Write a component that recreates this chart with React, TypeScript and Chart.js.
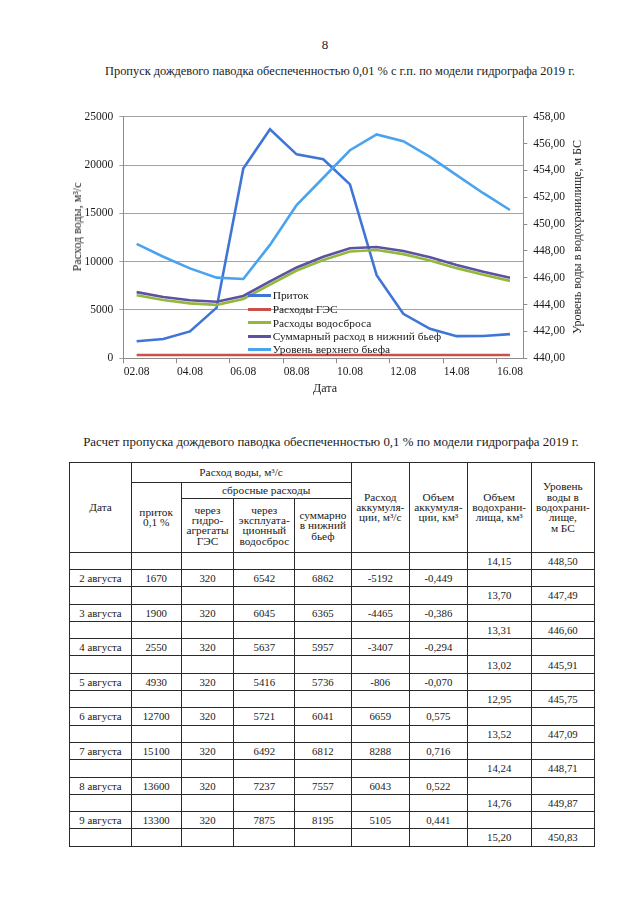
import React, { useEffect, useRef } from 'react';
import { Chart, registerables } from 'chart.js';

Chart.register(...registerables);

const SERIF = "'Liberation Serif', 'Times New Roman', serif";
const TEXT = '#1a1a1a';
const GRID = '#a3a3a3';
const AXIS = '#8c8c8c';

// ---- chart data ----
const categories = ['02.08', '03.08', '04.08', '05.08', '06.08', '07.08', '08.08', '09.08', '10.08', '11.08', '12.08', '13.08', '14.08', '15.08', '16.08'];
const inflow = [1770, 2000, 2780, 5240, 19650, 23700, 21100, 20600, 18000, 8600, 4600, 3050, 2290, 2310, 2500];
const hesFlow = [340, 340, 340, 340, 340, 340, 340, 340, 340, 340, 340, 340, 340, 340, 340];
const spillwayFlow = [6530, 6030, 5680, 5530, 6130, 7630, 9080, 10180, 11060, 11200, 10780, 10130, 9330, 8640, 8010];
const totalFlow = [6850, 6350, 6000, 5850, 6450, 7950, 9400, 10500, 11380, 11520, 11100, 10450, 9650, 8960, 8330];
const upperLevel = [448.52, 447.57, 446.7, 446.01, 445.91, 448.45, 451.42, 453.45, 455.5, 456.68, 456.18, 455.0, 453.65, 452.3, 451.05];
const seriesNames = ['Приток', 'Расходы ГЭС', 'Расходы водосброса', 'Суммарный расход в нижний бьеф', 'Уровень верхнего бьефа'];
const seriesColors = ['#3f76d6', '#c9514c', '#93b93c', '#5e52a0', '#4aa3ee'];
const leftTickLabels = ['0', '5000', '10000', '15000', '20000', '25000'];
const rightTickLabels = ['440,00', '442,00', '444,00', '446,00', '448,00', '450,00', '452,00', '454,00', '456,00', '458,00'];

// ---- table data ----
const tableDates = ['2 августа', '3 августа', '4 августа', '5 августа', '6 августа', '7 августа', '8 августа', '9 августа'];
const tableInflow = ['1670', '1900', '2550', '4930', '12700', '15100', '13600', '13300'];
const tableHes = ['320', '320', '320', '320', '320', '320', '320', '320'];
const tableSpill = ['6542', '6045', '5637', '5416', '5721', '6492', '7237', '7875'];
const tableTotal = ['6862', '6365', '5957', '5736', '6041', '6812', '7557', '8195'];
const tableAccumFlow = ['-5192', '-4465', '-3407', '-806', '6659', '8288', '6043', '5105'];
const tableAccumVol = ['-0,449', '-0,386', '-0,294', '-0,070', '0,575', '0,716', '0,522', '0,441'];
const tableVolume = ['14,15', '13,70', '13,31', '13,02', '12,95', '13,52', '14,24', '14,76', '15,20'];
const tableLevel = ['448,50', '447,49', '446,60', '445,91', '445,75', '447,09', '448,71', '449,87', '450,83'];

const colWidths = [61.4, 50, 52.6, 61, 56.2, 58.5, 57.7, 64, 63.3];

function ChartCanvas() {
  const ref = useRef<HTMLCanvasElement | null>(null);
  useEffect(() => {
    if (!ref.current) return;
    const font = { family: SERIF, size: 11.5 };
    const seriesData = [inflow, hesFlow, spillwayFlow, totalFlow, upperLevel];
    const chart = new Chart(ref.current, {
      type: 'line',
      data: {
        labels: categories,
        datasets: seriesNames.map((name, i) => ({
          label: name,
          data: seriesData[i],
          borderColor: seriesColors[i],
          backgroundColor: seriesColors[i],
          borderWidth: 2.6,
          pointRadius: 0,
          tension: 0,
          fill: false,
          yAxisID: i === 4 ? 'y1' : 'y',
          order: 5 - i,
        })),
      },
      options: {
        animation: false,
        responsive: false,
        layout: { padding: { top: 26.7, left: 0, right: 0, bottom: 0 } },
        plugins: { legend: { display: false }, tooltip: { enabled: false }, title: { display: false } },
        scales: {
          x: {
            type: 'category',
            offset: true,
            grid: {
              offset: true,
              drawOnChartArea: false,
              tickLength: 5,
              color: AXIS,
              tickColor: (c: any) => (c.index % 2 === 0 && c.index < categories.length ? AXIS : 'rgba(0,0,0,0)'),
            },
            border: { color: AXIS, width: 1 },
            ticks: {
              autoSkip: false,
              maxRotation: 0,
              minRotation: 0,
              padding: 2,
              font,
              color: TEXT,
              callback: (_v: any, i: number) => (i % 2 === 0 ? categories[i] : ''),
            },
            afterFit: (s: any) => {
              s.height = 51.7;
            },
          },
          y: {
            position: 'left',
            min: 0,
            max: 25000,
            grid: { color: GRID, tickLength: 4, lineWidth: 1 },
            border: { color: AXIS },
            ticks: {
              stepSize: 5000,
              padding: 6,
              font,
              color: TEXT,
              callback: (_v: any, i: number) => leftTickLabels[i],
            },
            afterFit: (s: any) => {
              s.width = 123.3;
            },
          },
          y1: {
            position: 'right',
            min: 440,
            max: 458,
            grid: { drawOnChartArea: false, tickLength: 4, color: AXIS },
            border: { color: AXIS },
            ticks: {
              stepSize: 2,
              padding: 6,
              font,
              color: TEXT,
              callback: (_v: any, i: number) => rightTickLabels[i],
            },
            afterFit: (s: any) => {
              s.width = 116.7;
            },
          },
        },
      } as any,
    });
    return () => chart.destroy();
  }, []);
  return <canvas ref={ref} width={640} height={320} style={{ position: 'absolute', left: 0, top: 90, width: 640, height: 320 }} />;
}

const abs = (style: React.CSSProperties): React.CSSProperties => ({ position: 'absolute', ...style });

export default function App() {
  const legendRows = [295, 309.3, 322.7, 336, 349.3];
  const cell: React.CSSProperties = {
    border: '1px solid #2a2a2a',
    padding: 0,
    textAlign: 'center',
    verticalAlign: 'middle',
    fontSize: 10.8,
    lineHeight: '10.2px',
    color: TEXT,
    overflow: 'visible',
  };
  const head: React.CSSProperties = { ...cell, fontSize: 11.3, lineHeight: '10.4px' };
  const rows: { date: string; v: string[] }[] = [];
  for (let k = 0; k < tableVolume.length; k++) {
    rows.push({ date: '', v: ['', '', '', '', '', '', tableVolume[k], tableLevel[k]] });
    if (k < tableDates.length) {
      rows.push({
        date: tableDates[k],
        v: [tableInflow[k], tableHes[k], tableSpill[k], tableTotal[k], tableAccumFlow[k], tableAccumVol[k], '', ''],
      });
    }
  }
  return (
    <div style={abs({ left: 0, top: 0, width: 640, height: 904, background: '#fff', fontFamily: SERIF, color: TEXT })}>
      <div style={abs({ left: 0, width: 650, top: 37, textAlign: 'center', fontSize: 13, lineHeight: '16px' })}>8</div>
      <div style={abs({ left: 90, width: 500, top: 63, textAlign: 'center', fontSize: 12.4, lineHeight: '16px', whiteSpace: 'nowrap' })}>
        Пропуск дождевого паводка обеспеченностью 0,01 % с г.п. по модели гидрографа 2019 г.
      </div>

      <ChartCanvas />

      <div style={abs({ left: 76.7, top: 227, transform: 'translate(-50%, -50%) rotate(-90deg)', fontSize: 12, whiteSpace: 'nowrap', lineHeight: '14px' })}>
        Расход воды, м³/с
      </div>
      <div style={abs({ left: 576.7, top: 236.5, transform: 'translate(-50%, -50%) rotate(-90deg)', fontSize: 12, whiteSpace: 'nowrap', lineHeight: '14px' })}>
        Уровень воды в водохранилище, м БС
      </div>
      <div style={abs({ left: 325, top: 388.3, transform: 'translate(-50%, -50%)', fontSize: 12, whiteSpace: 'nowrap', lineHeight: '14px' })}>
        Дата
      </div>

      {seriesNames.map((name, i) => (
        <div key={name} style={abs({ left: 248.3, top: legendRows[i] - 7, height: 14, display: 'flex', alignItems: 'center', whiteSpace: 'nowrap' })}>
          <span style={{ display: 'inline-block', width: 22.4, height: 3, background: seriesColors[i], marginRight: 2 }} />
          <span style={{ fontSize: 11.4, lineHeight: '14px' }}>{name}</span>
        </div>
      ))}

      <div style={abs({ left: 71, width: 520, top: 434, textAlign: 'center', fontSize: 12.9, lineHeight: '16px', whiteSpace: 'nowrap' })}>
        Расчет пропуска дождевого паводка обеспеченностью 0,1 % по модели гидрографа 2019 г.
      </div>

      <table
        style={abs({
          left: 69.3,
          top: 461.7,
          width: 524.7,
          borderCollapse: 'collapse',
          tableLayout: 'fixed',
          fontFamily: SERIF,
        })}
      >
        <colgroup>
          {colWidths.map((w, i) => (
            <col key={i} style={{ width: w }} />
          ))}
        </colgroup>
        <tbody>
          <tr style={{ height: 20 }}>
            <td style={head} rowSpan={3}>Дата</td>
            <td style={head} colSpan={4}>Расход воды, м³/с</td>
            <td style={head} rowSpan={3}>Расход<br />аккумуля-<br />ции, м³/с</td>
            <td style={head} rowSpan={3}>Объем<br />аккумуля-<br />ции, км³</td>
            <td style={head} rowSpan={3}>Объем<br />водохрани-<br />лища, км³</td>
            <td style={head} rowSpan={3}>Уровень<br />воды в<br />водохрани-<br />лище,<br />м БС</td>
          </tr>
          <tr style={{ height: 16.6 }}>
            <td style={head} rowSpan={2}>приток<br />0,1 %</td>
            <td style={head} colSpan={3}>сбросные расходы</td>
          </tr>
          <tr style={{ height: 53.4 }}>
            <td style={head}>через<br />гидро-<br />агрегаты<br />ГЭС</td>
            <td style={head}>через<br />эксплуата-<br />ционный<br />водосброс</td>
            <td style={head}>суммарно<br />в нижний<br />бьеф</td>
          </tr>
          {rows.map((r, ri) => (
            <tr key={ri} style={{ height: 17.3 }}>
              <td style={cell}>{r.date}</td>
              {r.v.map((t, ci) => (
                <td key={ci} style={cell}>{t}</td>
              ))}
            </tr>
          ))}
        </tbody>
      </table>
    </div>
  );
}
